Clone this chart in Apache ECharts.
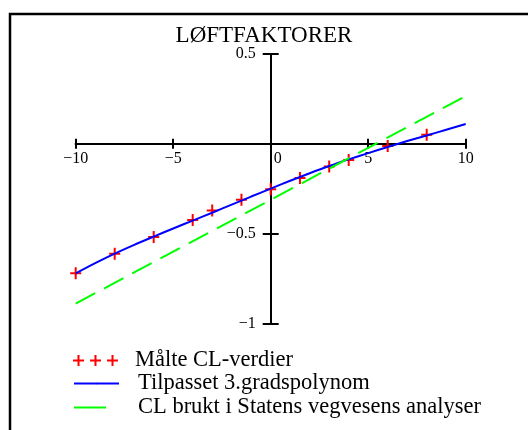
<!DOCTYPE html>
<html>
<head>
<meta charset="utf-8">
<script src="https://cdn.jsdelivr.net/npm/echarts@6/dist/echarts.min.js"></script>
<style>
  html, body { margin: 0; padding: 0; background: #ffffff; }
  #chart { width: 528px; height: 430px; }
</style>
</head>
<body>
<div id="chart"></div>
<script>
// Measured lift coefficients (angle of attack in degrees -> CL)
const maaltX = [-10, -8, -6, -4, -3, -1.5, 0, 1.5, 3, 4, 6, 8];
const maaltCL = [-0.721, -0.612, -0.519, -0.425, -0.372, -0.312, -0.253, -0.191, -0.127, -0.09, -0.012, 0.05];

// Fitted 3rd-degree polynomial, sampled along the angle range
const polyX = [-10, -9, -8, -7, -6, -5, -4, -3, -2, -1, 0, 1, 2, 3, 4, 5, 6, 7, 8, 9, 10];
const polyCL = [-0.722, -0.665, -0.612, -0.563, -0.517, -0.472, -0.428, -0.384, -0.339, -0.294, -0.25,
                -0.206, -0.164, -0.124, -0.087, -0.052, -0.018, 0.015, 0.046, 0.078, 0.11];

// CL used in the road administration's analyses (straight line)
const svvX = [-10, -5, 0, 5, 10];
const svvCL = [-0.89, -0.601, -0.312, -0.023, 0.266];

// Axis ticks
const xTicks = [-10, -5, 0, 5, 10];
const yTicks = [-1, -0.5, 0, 0.5];

const titleText = 'LØFTFAKTORER';
const seriesNames = ['Målte CL-verdier', 'Tilpasset 3.gradspolynom', 'CL brukt i Statens vegvesens analyser'];

const pair = (xs, ys) => xs.map((x, i) => [x, ys[i]]);
const FONT = '"Liberation Serif", "Times New Roman", serif';
const minus = s => String(s).replace('-', '\u2212');

const plusIcon = 'path://M0,5h11v2h-11z M4.5,0h2v12h-2z';
const triplePlus = 'path://M0,4.5h11v2h-11z M4.5,0h2v11h-2z M17,4.5h11v2h-11z M21.5,0h2v11h-2z M34,4.5h11v2h-11z M38.5,0h2v11h-2z';

// Plot box; the axes cross at the origin, so they are shifted inwards from the box edges
const GRID = { left: 75.7, right: 62.3, top: 54, bottom: 106.7 };
const plotW = 528 - GRID.left - GRID.right;
const plotH = 430 - GRID.top - GRID.bottom;
const xMin = xTicks[0], xMax = xTicks[xTicks.length - 1];
const yMin = yTicks[0], yMax = yTicks[yTicks.length - 1];
const yAxisShift = -plotW * (0 - xMin) / (xMax - xMin);
const xAxisShift = -plotH * (0 - yMin) / (yMax - yMin);

const chart = echarts.init(document.getElementById('chart'), null, { renderer: 'canvas' });

const lineStyleAxis = { show: true, onZero: false, lineStyle: { color: '#000', width: 2 } };
const TICK_FONT = 16;

const legendBase = {
  orient: 'vertical',
  left: 73,
  padding: 0,
  itemGap: 0,
  selectedMode: false
};
const legendText = pad => ({ fontFamily: FONT, fontSize: 22.5, color: '#000', padding: [0, 0, 0, pad] });

chart.setOption({
  backgroundColor: '#ffffff',
  animation: false,
  title: {
    text: titleText,
    left: 'center',
    top: 24,
    padding: 0,
    textStyle: { fontFamily: FONT, fontSize: 23, fontWeight: 'normal', color: '#000' }
  },
  graphic: [{
    type: 'rect',
    shape: { x: 10, y: 14, width: 700, height: 600 },
    style: { fill: 'none', stroke: '#000', lineWidth: 2.5 },
    silent: true
  }],
  grid: GRID,
  xAxis: [
    {
      type: 'value', min: xMin, max: xMax, interval: 5,
      position: 'bottom', offset: xAxisShift,
      axisLine: lineStyleAxis, splitLine: { show: false },
      axisTick: { show: true, inside: false, length: 5, lineStyle: { color: '#000', width: 2 } },
      axisLabel: {
        margin: 7, fontFamily: FONT, fontSize: TICK_FONT, color: '#000',
        formatter: v => (v === 0 ? '{z|0}' : minus(v)),
        rich: { z: { fontFamily: FONT, fontSize: TICK_FONT, color: '#000', padding: [0, 0, 0, 14] } }
      }
    },
    {
      type: 'value', min: xMin, max: xMax, interval: 5,
      position: 'bottom', offset: xAxisShift,
      axisLine: lineStyleAxis, splitLine: { show: false },
      axisTick: { show: true, inside: true, length: 5, lineStyle: { color: '#000', width: 2 } },
      axisLabel: { show: false }
    }
  ],
  yAxis: [
    {
      type: 'value', min: yMin, max: yMax, interval: 0.5,
      position: 'left', offset: yAxisShift,
      axisLine: lineStyleAxis, splitLine: { show: false },
      axisTick: { show: true, inside: false, length: 8, lineStyle: { color: '#000', width: 2 } },
      axisLabel: {
        margin: 15, fontFamily: FONT, fontSize: TICK_FONT, color: '#000',
        formatter: v => (v === 0 ? '' : minus(v))
      }
    },
    {
      type: 'value', min: yMin, max: yMax, interval: 0.5,
      position: 'left', offset: yAxisShift,
      axisLine: lineStyleAxis, splitLine: { show: false },
      axisTick: { show: true, inside: true, length: 8, lineStyle: { color: '#000', width: 2 } },
      axisLabel: { show: false }
    }
  ],
  legend: [
    Object.assign({}, legendBase, {
      top: 349, itemWidth: 45, itemHeight: 11,
      textStyle: legendText(12),
      data: [{ name: seriesNames[0], icon: triplePlus }]
    }),
    Object.assign({}, legendBase, {
      top: 372, itemWidth: 45, itemHeight: 2,
      textStyle: legendText(14),
      data: [{ name: seriesNames[1] }]
    }),
    Object.assign({}, legendBase, {
      top: 396, itemWidth: 32, itemHeight: 2,
      lineStyle: { type: 'solid' },
      textStyle: legendText(27),
      data: [{ name: seriesNames[2] }]
    })
  ],
  series: [
    {
      name: seriesNames[0],
      type: 'scatter',
      data: pair(maaltX, maaltCL),
      symbol: plusIcon,
      symbolSize: [11, 12],
      itemStyle: { color: '#ff0000', opacity: 1 },
      z: 2
    },
    {
      name: seriesNames[1],
      type: 'line',
      data: pair(polyX, polyCL),
      smooth: 0.3,
      showSymbol: false,
      symbol: 'none',
      lineStyle: { color: '#0000ff', width: 2 },
      itemStyle: { color: '#0000ff' },
      z: 3
    },
    {
      name: seriesNames[2],
      type: 'line',
      data: pair(svvX, svvCL),
      showSymbol: false,
      symbol: 'none',
      lineStyle: { color: '#00ff00', width: 2, type: [22, 10] },
      itemStyle: { color: '#00ff00' },
      z: 3
    }
  ]
});
</script>
</body>
</html>
